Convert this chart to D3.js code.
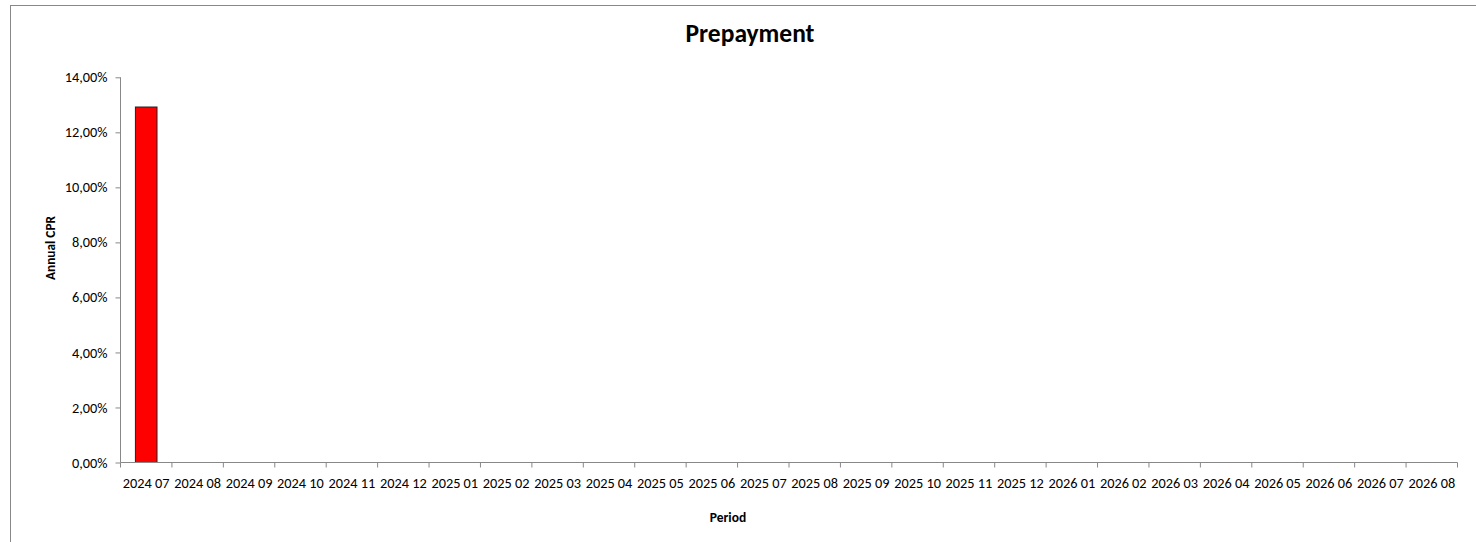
<!DOCTYPE html>
<html><head><meta charset="utf-8">
<script src="https://cdn.jsdelivr.net/npm/d3@7"></script>
<style>body{margin:0;background:#fff;}svg{display:block;font-family:Calibri,Carlito,Lato,"Open Sans",sans-serif;}</style>
</head><body><svg id="c" width="1476" height="542"></svg>
<script>
const categories = ["2024 07","2024 08","2024 09","2024 10","2024 11","2024 12","2025 01","2025 02","2025 03","2025 04","2025 05","2025 06","2025 07","2025 08","2025 09","2025 10","2025 11","2025 12","2026 01","2026 02","2026 03","2026 04","2026 05","2026 06","2026 07","2026 08"];
const cprValues = [0.1292,0,0,0,0,0,0,0,0,0,0,0,0,0,0,0,0,0,0,0,0,0,0,0,0,0];
const yTicks = [0,0.02,0.04,0.06,0.08,0.10,0.12,0.14];
const title = "Prepayment", yTitle = "Annual CPR", xTitle = "Period";
const FONT = 'Calibri,Carlito,Lato,"Open Sans",sans-serif';

const svg = d3.select("#c");
svg.append("rect").attr("x",10.5).attr("y",5.5).attr("width",1480).attr("height",560)
  .attr("fill","#fff").attr("stroke","#888").attr("stroke-width",1);

const m = {l:120.5, r:1457.5, t:77.3, b:462.5};
const x = d3.scaleBand().domain(categories).range([m.l,m.r]).paddingInner(0.58).paddingOuter(0.29);
const y = d3.scaleLinear().domain([0,0.14]).range([m.b,m.t]);
const fmt = v => d3.format(".2f")(v*100).replace(".",",")+"%";

// bars
svg.append("g").selectAll("rect").data(categories.map((c,i)=>({c,v:cprValues[i]})).filter(d=>d.v>0))
  .join("rect").attr("x",d=>x(d.c)).attr("y",d=>y(d.v)).attr("width",x.bandwidth()).attr("height",d=>y(0)-y(d.v))
  .attr("fill","#ff0000").attr("stroke","#222").attr("stroke-width",1);

// y axis
const ya = svg.append("g").attr("transform",`translate(${m.l},0)`)
  .call(d3.axisLeft(y).tickValues(yTicks).tickFormat(fmt).tickSize(5).tickPadding(8))
  .attr("font-family",FONT).attr("font-size",14.3);
ya.select(".domain").attr("stroke","#888").attr("d",`M-0,${m.b}V${m.t}`);
ya.selectAll(".tick line").attr("stroke","#888");
ya.selectAll("text").attr("fill","#000");

// x axis
const xs = d3.scalePoint().domain(d3.range(categories.length+1)).range([m.l,m.r]);
const xg = svg.append("g").attr("transform",`translate(0,${m.b})`);
xg.append("line").attr("x1",m.l).attr("x2",m.r).attr("stroke","#888");
xg.selectAll("line.t").data(d3.range(categories.length+1)).join("line").attr("class","t")
  .attr("x1",d=>xs(d)).attr("x2",d=>xs(d)).attr("y1",0).attr("y2",5).attr("stroke","#888");
xg.selectAll("text").data(categories).join("text")
  .attr("x",d=>x(d)+x.bandwidth()/2).attr("y",25.5).attr("text-anchor","middle")
  .attr("font-size",14.3).attr("fill","#000").text(d=>d);

svg.append("text").attr("x",750).attr("y",42).attr("text-anchor","middle")
  .attr("font-size",25.5).attr("font-weight","bold").text(title);
svg.append("text").attr("transform","translate(55,248) rotate(-90)").attr("text-anchor","middle")
  .attr("font-size",13.3).attr("font-weight","bold").text(yTitle);
svg.append("text").attr("x",728).attr("y",522).attr("text-anchor","middle")
  .attr("font-size",13.5).attr("font-weight","bold").text(xTitle);
</script></body></html>
